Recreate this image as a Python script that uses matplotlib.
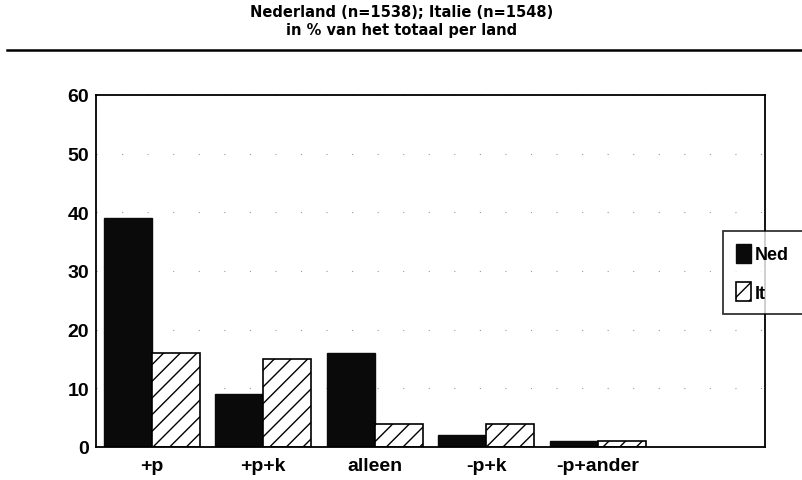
import numpy as np
import matplotlib.pyplot as plt

categories = ['+p', '+p+k', 'alleen', '-p+k', '-p+ander']
ned = [39, 9, 16, 2, 1]
it = [16, 15, 4, 4, 1]
title = 'Nederland (n=1538); Italie (n=1548)\nin % van het totaal per land'

plt.rcParams['font.family'] = ['Liberation Sans', 'DejaVu Sans']
plt.rcParams['font.weight'] = 'bold'
plt.rcParams['hatch.linewidth'] = 1.0

fig = plt.figure(figsize=(8.03, 4.81), dpi=100)
ax = fig.add_axes([96/803, 33/481, 669/803, 352/481])

x = np.arange(len(categories))
w = 0.43
ax.bar(x - w/2, ned, w, color='#0a0a0a', edgecolor='#0a0a0a', label='Ned')
ax.bar(x + w/2, it, w, color='white', edgecolor='black', hatch='//', linewidth=1.2, label='It')

ax.set_xlim(-0.5, 5.5)
ax.set_ylim(0, 60)
ax.set_yticks(range(0, 61, 10))
ax.set_xticks(x)
ax.set_xticklabels(categories, fontsize=14, fontweight='bold')
ax.tick_params(axis='y', labelsize=14, length=0, pad=5)
ax.tick_params(axis='x', length=0, pad=7)
for lab in ax.get_yticklabels():
    lab.set_fontweight('bold')
ax.yaxis.grid(True, color='#999999', linestyle=(0, (1, 22)), linewidth=0.8)
ax.set_axisbelow(True)
for sp in ax.spines.values():
    sp.set_linewidth(1.3)

fig.text(0.5, 1 - 5/481, title, ha='center', va='top', fontsize=10.5, fontweight='bold',
         family='DejaVu Sans', linespacing=1.25)
fig.add_artist(plt.Line2D([7/803, 1.0], [1 - 51/481, 1 - 51/481], color='black', linewidth=1.8))

# legend box runs past the right edge, as in the scan
leg = fig.legend(loc='upper left', bbox_to_anchor=(723/803, 1 - 232/481 - 0.2, 110/803, 0.2),
                 mode='expand', frameon=True, fancybox=False, edgecolor='black', fontsize=13,
                 handlelength=0.85, handleheight=1.25, handletextpad=0.2, labelspacing=1.05,
                 borderpad=0.7, borderaxespad=0)
leg.get_frame().set_linewidth(1.3)

fig.savefig('out.png', dpi=100)
